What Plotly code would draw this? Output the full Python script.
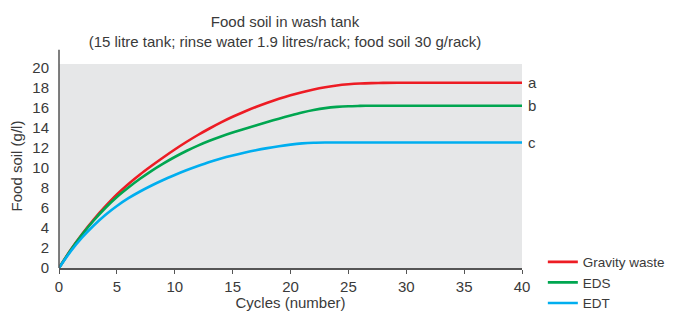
import plotly.graph_objects as go

cycles = [0, 1, 2, 3, 4, 5, 6, 7, 8, 9, 10, 11, 12, 13, 14, 15, 16, 17, 18, 19, 20,
          21, 22, 23, 24, 25, 26, 27, 28, 30, 35, 40]
gravity_waste = [0, 1.8, 3.4, 4.85, 6.15, 7.35, 8.4, 9.35, 10.22, 11.05, 11.85, 12.6, 13.3,
                 13.95, 14.56, 15.12, 15.63, 16.1, 16.53, 16.92, 17.27, 17.58, 17.85, 18.07,
                 18.25, 18.37, 18.45, 18.49, 18.51, 18.53, 18.53, 18.53]
eds = [0, 1.78, 3.35, 4.75, 6.0, 7.1, 8.05, 8.92, 9.72, 10.44, 11.1, 11.7, 12.24, 12.72,
       13.15, 13.54, 13.91, 14.26, 14.6, 14.93, 15.25, 15.55, 15.8, 15.99, 16.11, 16.18,
       16.21, 16.23, 16.23, 16.23, 16.23, 16.23]
edt = [0, 1.65, 3.05, 4.25, 5.3, 6.2, 6.98, 7.65, 8.25, 8.8, 9.3, 9.77, 10.2, 10.6, 10.95,
       11.25, 11.52, 11.77, 11.99, 12.18, 12.34, 12.46, 12.53, 12.55, 12.55, 12.55, 12.55,
       12.55, 12.55, 12.55, 12.55, 12.55]

series_names = ["Gravity waste", "EDS", "EDT"]
series_letters = ["a", "b", "c"]
series_colors = ["#ED1C24", "#00A650", "#00AEEF"]
series_values = [gravity_waste, eds, edt]

x_ticks = [0, 5, 10, 15, 20, 25, 30, 35, 40]
y_ticks = [0, 2, 4, 6, 8, 10, 12, 14, 16, 18, 20]

FONT = "Liberation Sans"
TXT = "#3a3a3a"

# page body has an 8px margin: figure is sized/offset to compensate
W, H, OFF = 667, 303, 8

fig = go.Figure()
for name, col, vals in zip(series_names, series_colors, series_values):
    fig.add_trace(go.Scatter(x=cycles, y=vals, mode="lines", name=name,
                             line=dict(color=col, width=2.6, shape="spline", smoothing=0.8)))

for letter, vals in zip(series_letters, series_values):
    fig.add_annotation(x=40, y=vals[-1], xref="x", yref="y", text=letter,
                       showarrow=False, xanchor="left", xshift=4,
                       font=dict(family=FONT, size=15, color=TXT))

fig.add_shape(type="line", xref="paper", yref="paper", x0=0, x1=0, y0=0, y1=1.07,
              line=dict(color="#555555", width=1.5))

fig.update_layout(
    width=W, height=H,
    margin=dict(l=59 - OFF, r=153, t=64 - OFF, b=43, autoexpand=False),
    paper_bgcolor="white", plot_bgcolor="#E6E7E8",
    font=dict(family=FONT, size=14, color=TXT),
    title=dict(text="Food soil in wash tank<br>(15 litre tank; rinse water 1.9 litres/rack; food soil 30 g/rack)",
               x=(285 - OFF) / W, xanchor="center", xref="container",
               y=1 - 19 / H, yanchor="top", yref="container",
               font=dict(family=FONT, size=15, color=TXT)),
    showlegend=True,
    legend=dict(x=1.045, xanchor="left", y=0.105, yanchor="top",
                bgcolor="rgba(0,0,0,0)", font=dict(family=FONT, size=13.5, color=TXT),
                tracegroupgap=0, itemwidth=30),
    xaxis=dict(range=[0, 40], tickvals=x_ticks, showgrid=False, zeroline=False,
               automargin=False,
               showline=True, linecolor="#555555", linewidth=1.5,
               ticks="outside", ticklen=4, tickcolor="#555555",
               title=dict(text="Cycles (number)", standoff=0, font=dict(size=15)),
               tickfont=dict(size=15)),
    yaxis=dict(range=[0, 20.4], tickvals=y_ticks, showgrid=False, zeroline=False,
               automargin=False,
               showline=False, ticks="", ticklabelstandoff=9,
               title=dict(text="Food soil (g/l)", standoff=10, font=dict(size=15)),
               tickfont=dict(size=15)),
)

fig.write_html("out.html")
